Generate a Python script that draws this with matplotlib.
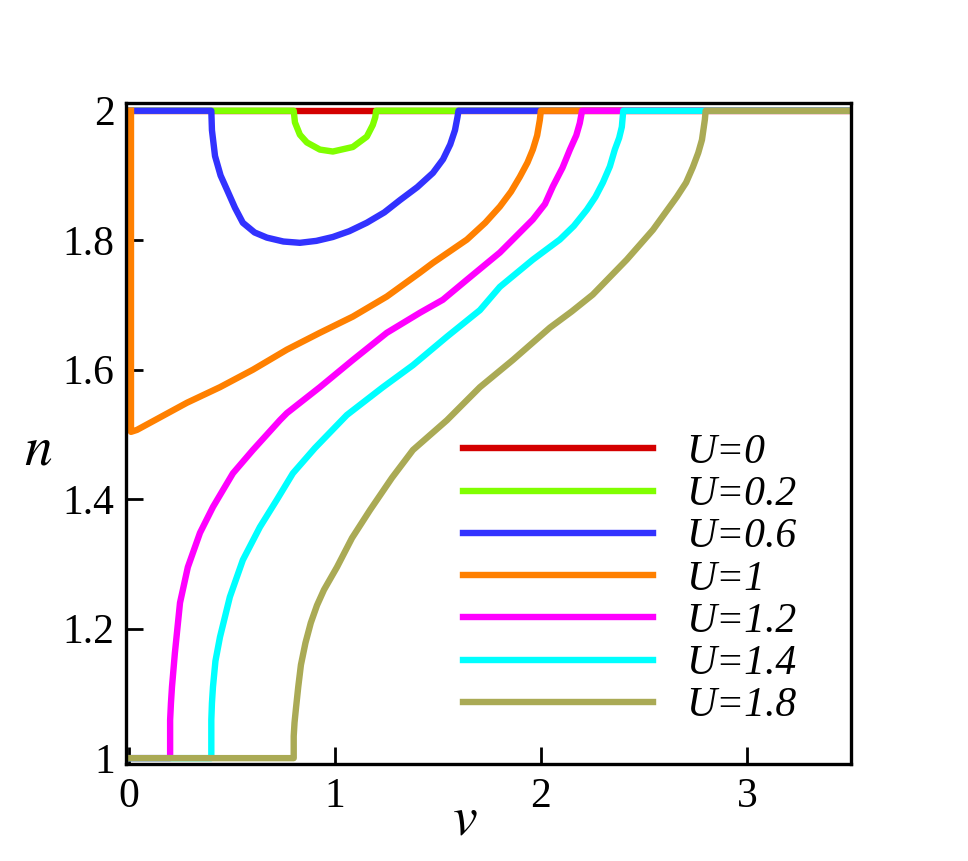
import matplotlib.pyplot as plt

plt.rcParams['font.family'] = ['Liberation Serif', 'DejaVu Serif']
plt.rcParams['mathtext.fontset'] = 'stix'

# boundary curves n(v) for each U
labels = ['U=0', 'U=0.2', 'U=0.6', 'U=1', 'U=1.2', 'U=1.4', 'U=1.8']
colors = ['#d40000', '#80ff00', '#3232ff', '#ff8000', '#ff00ff', '#00ffff', '#aaaa55']

v_u0 = [0.0, 3.5]
n_u0 = [2.0, 2.0]

v_u02 = [0.0, 0.8, 0.806, 0.83, 0.864, 0.927, 0.99, 1.087, 1.155, 1.184, 1.196, 1.2, 3.5]
n_u02 = [2.0, 2.0, 1.982, 1.963, 1.951, 1.940, 1.937, 1.944, 1.960, 1.978, 1.99, 2.0, 2.0]

v_u06 = [0.0, 0.4, 0.403, 0.418, 0.445, 0.476, 0.515, 0.553, 0.61, 0.67, 0.75, 0.83,
         0.91, 0.99, 1.07, 1.155, 1.24, 1.316, 1.40, 1.476, 1.525, 1.56, 1.583,
         1.595, 1.6, 3.5]
n_u06 = [2.0, 2.0, 1.97, 1.93, 1.90, 1.878, 1.85, 1.827, 1.812, 1.804, 1.798, 1.796,
         1.799, 1.805, 1.814, 1.827, 1.843, 1.862, 1.882, 1.904, 1.925, 1.948, 1.970,
         1.99, 2.0, 2.0]

v_u1 = [0.01, 0.01, 0.039, 0.282, 0.442, 0.602, 0.767, 0.927, 1.087, 1.252,
        1.413, 1.476, 1.641, 1.73, 1.801, 1.855, 1.898, 1.935, 1.961, 1.982, 1.995,
        2.0, 3.5]
n_u1 = [2.0, 1.504, 1.507, 1.549, 1.573, 1.600, 1.631, 1.657, 1.682, 1.713,
        1.750, 1.765, 1.801, 1.827, 1.852, 1.875, 1.898, 1.92, 1.940, 1.962, 1.986,
        2.0, 2.0]

v_u12 = [0.0, 0.2, 0.2, 0.204, 0.209, 0.223, 0.248, 0.286, 0.345, 0.408, 0.505, 0.602,
         0.733, 0.767, 0.927, 1.087, 1.252, 1.413, 1.524, 1.641, 1.801, 1.961,
         2.02, 2.058, 2.105, 2.141, 2.172, 2.189, 2.2, 3.5]
n_u12 = [1.0, 1.0, 1.059, 1.085, 1.110, 1.162, 1.240, 1.295, 1.348, 1.388, 1.440, 1.476,
         1.522, 1.533, 1.573, 1.615, 1.657, 1.688, 1.708, 1.739, 1.781, 1.832,
         1.856, 1.883, 1.912, 1.940, 1.962, 1.981, 2.0, 2.0]

v_u14 = [0.0, 0.4, 0.4, 0.403, 0.408, 0.42, 0.442, 0.49, 0.553, 0.636, 0.718, 0.796,
         0.903, 1.058, 1.233, 1.379, 1.544, 1.704, 1.801, 1.961, 2.092, 2.16, 2.223,
         2.265, 2.301, 2.335, 2.359, 2.38, 2.393, 2.4, 3.5]
n_u14 = [1.0, 1.0, 1.059, 1.085, 1.110, 1.15, 1.187, 1.249, 1.306, 1.357, 1.399, 1.440,
         1.479, 1.530, 1.573, 1.607, 1.651, 1.692, 1.728, 1.770, 1.801, 1.822, 1.847,
         1.867, 1.889, 1.914, 1.940, 1.958, 1.975, 2.0, 2.0]

v_u18 = [0.0, 0.8, 0.8, 0.804, 0.811, 0.822, 0.835, 0.857, 0.883, 0.913, 0.947, 1.01,
         1.083, 1.17, 1.277, 1.379, 1.544, 1.704, 1.864, 2.044, 2.15, 2.252, 2.417, 2.544,
         2.66, 2.705, 2.738, 2.764, 2.782, 2.796, 2.8, 3.5]
n_u18 = [1.0, 1.0, 1.034, 1.055, 1.077, 1.11, 1.144, 1.178, 1.209, 1.236, 1.260, 1.295,
         1.340, 1.383, 1.433, 1.476, 1.522, 1.573, 1.615, 1.665, 1.690, 1.716, 1.770, 1.816,
         1.867, 1.889, 1.913, 1.935, 1.955, 1.986, 2.0, 2.0]

v_all = [v_u0, v_u02, v_u06, v_u1, v_u12, v_u14, v_u18]
n_all = [n_u0, n_u02, n_u06, n_u1, n_u12, n_u14, n_u18]

xticks = [0, 1, 2, 3]
yticks = [1, 1.2, 1.4, 1.6, 1.8, 2]
yticklabels = ['1', '1.2', '1.4', '1.6', '1.8', '2']

fig = plt.figure(figsize=(9.68, 8.61), dpi=100)
ax = fig.add_axes([0.130, 0.1127, 0.749, 0.7677])

for v, n, c, lab in zip(v_all, n_all, colors, labels):
    ax.plot(v, n, color=c, lw=4.6, label=lab, solid_joinstyle='round')

ax.set_xlim(-0.015, 3.505)
ax.set_ylim(0.991, 2.012)
ax.set_xticks(xticks)
ax.set_xticklabels([str(t) for t in xticks])
ax.set_yticks(yticks)
ax.set_yticklabels(yticklabels)
ax.tick_params(direction='in', length=12, width=2, labelsize=30, pad=8,
               top=False, right=False)
ax.tick_params(axis='x', pad=10)
for s in ax.spines.values():
    s.set_linewidth(2.4)

ax.set_xlabel('$v$', fontsize=40)
ax.set_ylabel('$n$', fontsize=40, rotation=0, ha='center', va='center')
ax.xaxis.label.set_va('center')
ax.xaxis.set_label_coords(0.468, -0.085)
ax.yaxis.set_label_coords(-0.121, 0.474)

leg = ax.legend(loc='upper left', bbox_to_anchor=(0.465, 0.500), frameon=False,
                prop={'family': 'Liberation Serif', 'style': 'italic', 'size': 30},
                handlelength=4.55, handletextpad=0.8, labelspacing=0.09,
                borderpad=0, borderaxespad=0)

fig.savefig('out.png', dpi=100)
